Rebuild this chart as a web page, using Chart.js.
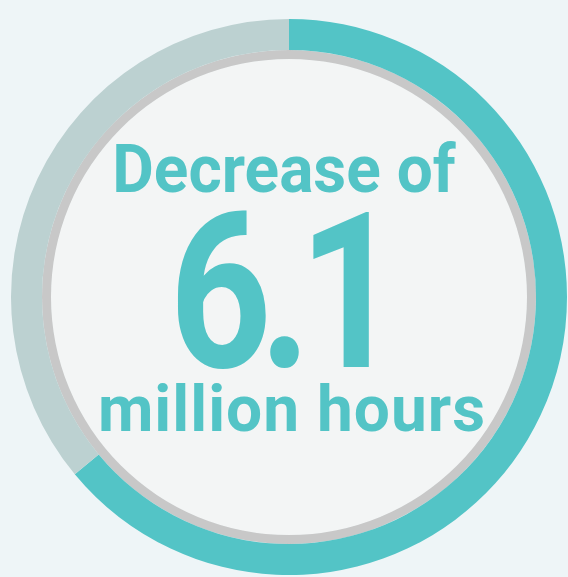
<!DOCTYPE html>
<html>
<head>
<meta charset="utf-8">
<script src="https://cdn.jsdelivr.net/npm/chart.js@4"></script>
<style>
    html, body {
        margin: 0;
        padding: 0;
        background: #eef5f7;
    }
    .wrap {
        position: relative;
        width: 568px;
        height: 577px;
    }
    .label {
        position: absolute;
        left: 0;
        width: 568px;
        text-align: center;
        font-family: Roboto, "DejaVu Sans", sans-serif;
        font-weight: bold;
        color: #53c4c6;
        line-height: 1;
        white-space: nowrap;
    }
    #line1 { top: 136px; font-size: 67px; transform: scaleX(0.955); left: 0px; }
    #line2 { top: 184px; font-size: 218px; letter-spacing: -0.07em; transform: scaleX(0.82); left: -5px; }
    #line3 { top: 378px; font-size: 64px; letter-spacing: 1px; left: 8px; }
</style>
</head>
<body>
<div class="wrap">
    <canvas id="ringChart" width="568" height="577"></canvas>
    <div class="label" id="line1">Decrease of</div>
    <div class="label" id="line2">6.1</div>
    <div class="label" id="line3">million hours</div>
</div>
<script>
// share of the ring: decrease vs rest
const segments = ['Decrease', 'Remaining'];
const ringValues = [64, 36];
const ringColors = ['#53c4c6', '#bcd1d1'];

const ctx = document.getElementById('ringChart').getContext('2d');

const ringChart = new Chart(ctx, {
    type: 'doughnut',
    data: {
        labels: segments,
        datasets: [
            {
                data: ringValues,
                backgroundColor: ringColors,
                borderWidth: 0,
                weight: 31
            },
            {
                // thin grey band inside the ring
                data: [1],
                backgroundColor: ['#c8c8c8'],
                borderWidth: 0,
                weight: 9
            },
            {
                // inner disc
                data: [1],
                backgroundColor: ['#f3f5f5'],
                borderWidth: 0,
                weight: 238
            }
        ]
    },
    options: {
        responsive: false,
        animation: false,
        cutout: 0,
        layout: {
            padding: { left: 11, right: 1, top: 18, bottom: 1 }
        },
        plugins: {
            legend: { display: false },
            tooltip: { enabled: false }
        },
        events: []
    }
});
</script>
</body>
</html>
